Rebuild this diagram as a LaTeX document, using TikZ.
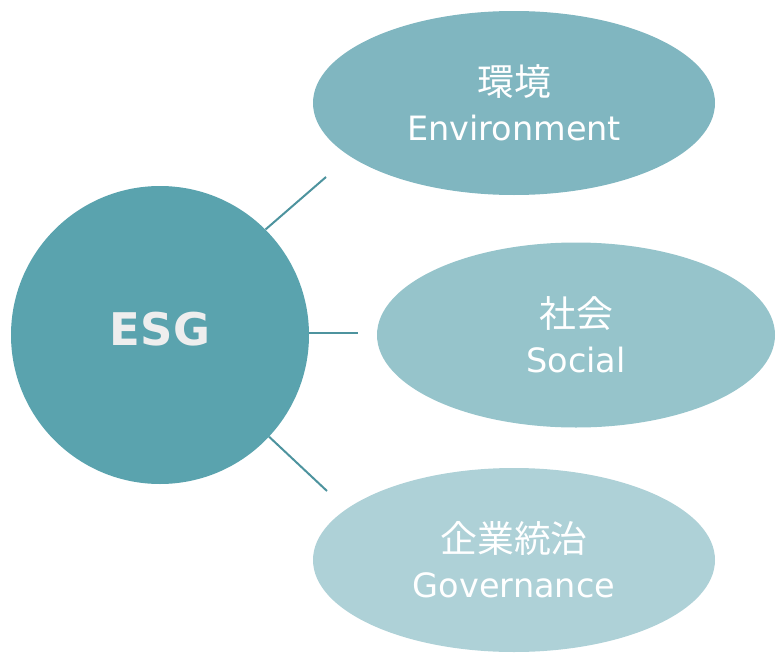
\documentclass[tikz,border=0pt]{standalone}
\usepackage{fontspec}
\usepackage{xcolor}
\usetikzlibrary{shapes.geometric}
\newfontfamily\jpfont{Noto Sans CJK JP}[Scale=1.1]
\newfontfamily\latinfont{DejaVu Sans}
\definecolor{esgteal}{HTML}{5AA3AE}
\definecolor{envteal}{HTML}{80B6C0}
\definecolor{socteal}{HTML}{96C4CB}
\definecolor{govteal}{HTML}{AED1D7}
\definecolor{linkteal}{HTML}{4D939E}
\definecolor{esgtext}{HTML}{EEEEEE}

\begin{document}
\begin{tikzpicture}[x=1pt,y=-1pt,
    hub/.style={circle, fill=esgteal, draw=none, inner sep=0, minimum size=298pt,
      text=esgtext, text depth=12pt,
      font=\latinfont\bfseries\fontsize{45}{52}\selectfont},
    pillar/.style={ellipse, draw=none, inner sep=0, align=center, text=white,
      minimum width=402pt, minimum height=184pt,
      font=\latinfont\fontsize{33.5}{45}\selectfont},
    link/.style={draw=linkteal, line width=2pt}]
\useasboundingbox (0,0) rectangle (777,656);

\node[hub] (esg) at (160,335) {ESG};
\node[pillar, fill=envteal] (env) at (514,103) {{\jpfont 環境}\\Environment};
\node[pillar, fill=socteal, minimum width=398pt, minimum height=185pt] (soc)
  at (576,335) {{\jpfont 社会}\\Social};
\node[pillar, fill=govteal] (gov) at (514,560) {{\jpfont 企業統治}\\Governance};

% short strokes that stop before each ellipse
\coordinate (envend) at (326,177);
\coordinate (socend) at (358,333);
\coordinate (govend) at (327,491);
\draw[link] (esg.45) -- (envend);
\draw[link] (esg.east |- socend) -- (socend);
\draw[link] (esg.-43) -- (govend);
\end{tikzpicture}
\end{document}
